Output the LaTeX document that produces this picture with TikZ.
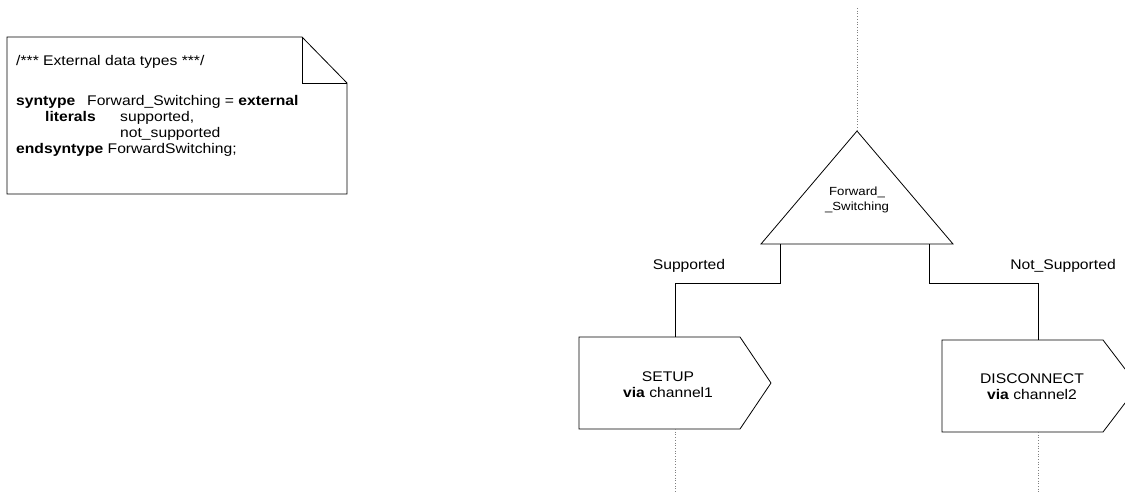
\documentclass[tikz,border=0pt]{standalone}
\usepackage{fontspec}
\setmainfont{Liberation Sans}[FakeStretch=1.12]
\begin{document}
\begin{tikzpicture}[x=1pt,y=-1pt,
  shape line/.style={draw=black,line width=0.8pt,line join=miter},
  flow/.style={draw=black,line width=0.8pt},
  lifeline/.style={draw=gray,line width=0.7pt,dotted},
  notetext/.style={anchor=base west,inner sep=0pt,font=\fontsize{14}{16}\selectfont},
  lbl/.style={inner sep=0pt,font=\fontsize{14}{16}\selectfont,align=center},
  tri text/.style={inner sep=0pt,font=\fontsize{11.8}{15}\selectfont,align=center}]
\useasboundingbox (0,0) rectangle (1125,493);
\clip (0,0) rectangle (1125,493);
% note
\coordinate (nTL) at (7,37);
\coordinate (nF) at (302,37);
\coordinate (nFc) at (302,83);
\coordinate (nR) at (347,83);
\coordinate (nBR) at (347,194);
\coordinate (nBL) at (7,194);
\draw[shape line] (nTL) -- (nF) -- (nR) -- (nBR) -- (nBL) -- cycle;
\draw[shape line] (nF) -- (nFc) -- (nR);
\node[notetext] (c1) at (16,65) {/*** External data types ***/};
\node[notetext] (s1) at (16,105) {\textbf{syntype}};
\node[notetext] (s2) at (87,105) {Forward\_Switching = \textbf{external}};
\node[notetext] (l1) at (45,121) {\textbf{literals}};
\node[notetext] (l2) at (120,121) {supported,};
\node[notetext] (l3) at (120,137) {not\_supported};
\node[notetext] (e1) at (16,153) {\textbf{endsyntype} ForwardSwitching;};
% decision triangle
\coordinate (top) at (857,8);
\coordinate (apex) at (857,131);
\coordinate (tL) at (761,244);
\coordinate (tR) at (953,244);
\draw[shape line] (apex) -- (tR) -- (tL) -- cycle;
\draw[lifeline] (top) -- (apex);
\node[tri text] (dec) at (857,200) {Forward\_\\\_Switching};
% left branch
\coordinate (bL0) at (780,244);
\coordinate (bL1) at (780,283);
\coordinate (bL2) at (675,283);
\coordinate (sTop) at (675,337);
\draw[flow] (bL0) -- (bL1) -- (bL2) -- (sTop);
\node[lbl] (sup) at (689,266) {Supported};
% SETUP output signal
\coordinate (s1a) at (579,337);
\coordinate (s1b) at (740,337);
\coordinate (s1c) at (771,383);
\coordinate (s1d) at (740,429);
\coordinate (s1e) at (579,429);
\draw[shape line] (s1a) -- (s1b) -- (s1c) -- (s1d) -- (s1e) -- cycle;
\node[lbl] (setup) at (668,385) {SETUP\\\textbf{via} channel1};
\coordinate (sBot) at (675,429);
\coordinate (sEnd) at (675,493);
\draw[lifeline] (sBot) -- (sEnd);
% right branch
\coordinate (bR0) at (929,244);
\coordinate (bR1) at (929,283);
\coordinate (bR2) at (1038,283);
\coordinate (dTop) at (1038,340);
\draw[flow] (bR0) -- (bR1) -- (bR2) -- (dTop);
\node[lbl] (nsup) at (1063,266) {Not\_Supported};
% DISCONNECT output signal
\coordinate (d1a) at (942,340);
\coordinate (d1b) at (1103,340);
\coordinate (d1c) at (1138,386);
\coordinate (d1d) at (1103,432);
\coordinate (d1e) at (942,432);
\draw[shape line] (d1a) -- (d1b) -- (d1c) -- (d1d) -- (d1e) -- cycle;
\node[lbl] (disc) at (1032,387) {DISCONNECT\\\textbf{via} channel2};
\coordinate (dBot) at (1038,432);
\coordinate (dEnd) at (1038,493);
\draw[lifeline] (dBot) -- (dEnd);
\end{tikzpicture}
\end{document}
